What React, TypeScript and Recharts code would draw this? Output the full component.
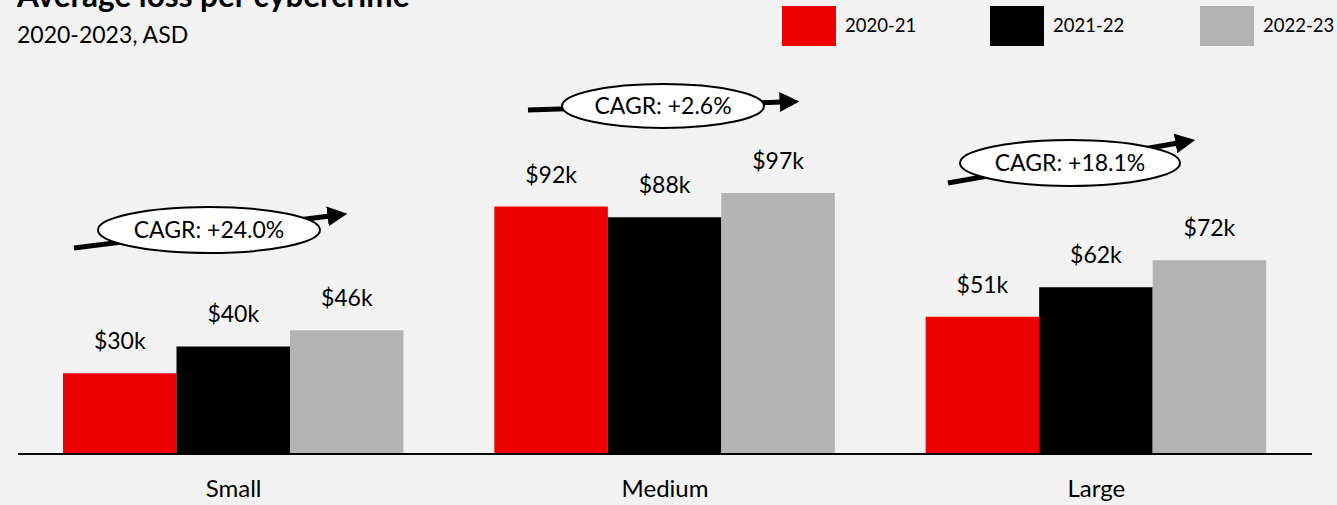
import React from "react";
import { BarChart, Bar, XAxis, YAxis, LabelList } from "recharts";

const CATEGORIES = ["Small", "Medium", "Large"];
const SERIES_NAMES = ["2020-21", "2021-22", "2022-23"];
const LOSS_2020_21 = [30, 92, 51];
const LOSS_2021_22 = [40, 88, 62];
const LOSS_2022_23 = [46, 97, 72];
const CAGR_LABELS = ["+24.0%", "+2.6%", "+18.1%"];

const COLORS = ["#ee0000", "#000000", "#b3b3b3"];
const FONT = "Lato, 'Open Sans', sans-serif";

const data = CATEGORIES.map((name, i) => ({
  name,
  a: LOSS_2020_21[i],
  b: LOSS_2021_22[i],
  c: LOSS_2022_23[i],
}));

// annotation geometry (arrow from -> to, ellipse centre/radii)
const CAGR_SHAPES = [
  { x1: 74, y1: 248, x2: 330, y2: 216, cx: 209, cy: 230, rx: 111, ry: 23 },
  { x1: 528, y1: 110, x2: 782, y2: 102, cx: 663, cy: 106, rx: 101, ry: 22 },
  { x1: 948, y1: 183, x2: 1178, y2: 143, cx: 1070, cy: 163, rx: 110, ry: 23 },
];

function CategoryTick({ x, y, payload }: { x?: number; y?: number; payload?: { value: string } }) {
  return (
    <text x={x} y={y} dy={35} textAnchor="middle" fontSize={24} fill="#000" fontFamily={FONT}>
      {payload?.value}
    </text>
  );
}

const fmt = (v: unknown) => `$${v}k`;

export default function App() {
  const keys = ["a", "b", "c"];
  return (
    <div
      style={{
        position: "fixed",
        left: 0,
        top: 0,
        width: 1337,
        height: 505,
        overflow: "hidden",
        background: "#f2f2f2",
        fontFamily: FONT,
      }}
    >
      <BarChart
        width={1337}
        height={505}
        data={data}
        margin={{ top: 185, right: 25, left: 18, bottom: 0 }}
        barGap={0}
        barSize={113.5}
      >
        <XAxis
          dataKey="name"
          height={51}
          tick={<CategoryTick />}
          tickLine={false}
          axisLine={{ stroke: "#000", strokeWidth: 2 }}
        />
        <YAxis hide domain={[0, 100]} />
        {keys.map((k, i) => (
          <Bar key={k} dataKey={k} fill={COLORS[i]} isAnimationActive={false}>
            <LabelList
              dataKey={k}
              position="top"
              offset={24}
              formatter={fmt}
              style={{ fontSize: 23, fill: "#000", fontFamily: FONT }}
            />
          </Bar>
        ))}
      </BarChart>

      <svg
        width={1337}
        height={505}
        style={{ position: "absolute", left: 0, top: 0, pointerEvents: "none" }}
        fontFamily={FONT}
      >
        <defs>
          <marker id="head" markerWidth="4" markerHeight="4" refX="0.5" refY="2" orient="auto" markerUnits="strokeWidth">
            <path d="M0,0 L4,2 L0,4 Z" fill="#000" />
          </marker>
        </defs>

        <text x={17} y={7} fontSize={31.5} fontWeight={700} fill="#000">
          Average loss per cybercrime
          <tspan fontSize={17} dy={-11}>1</tspan>
        </text>
        <text x={17} y={43} fontSize={23} fill="#000">
          2020-2023, ASD
        </text>

        {SERIES_NAMES.map((s, i) => {
          const x = [782, 990, 1200][i];
          return (
            <g key={s}>
              <rect x={x} y={6} width={54} height={40} fill={COLORS[i]} />
              <text x={x + 63} y={32} fontSize={18.5} fill="#000">
                {s}
              </text>
            </g>
          );
        })}

        {CAGR_SHAPES.map((g, i) => (
          <g key={i}>
            <line x1={g.x1} y1={g.y1} x2={g.x2} y2={g.y2} stroke="#000" strokeWidth={5} markerEnd="url(#head)" />
            <ellipse cx={g.cx} cy={g.cy} rx={g.rx} ry={g.ry} fill="#fff" stroke="#000" strokeWidth={2} />
            <text x={g.cx} y={g.cy + 8} textAnchor="middle" fontSize={23} fill="#000">
              CAGR: {CAGR_LABELS[i]}
            </text>
          </g>
        ))}
      </svg>
    </div>
  );
}
